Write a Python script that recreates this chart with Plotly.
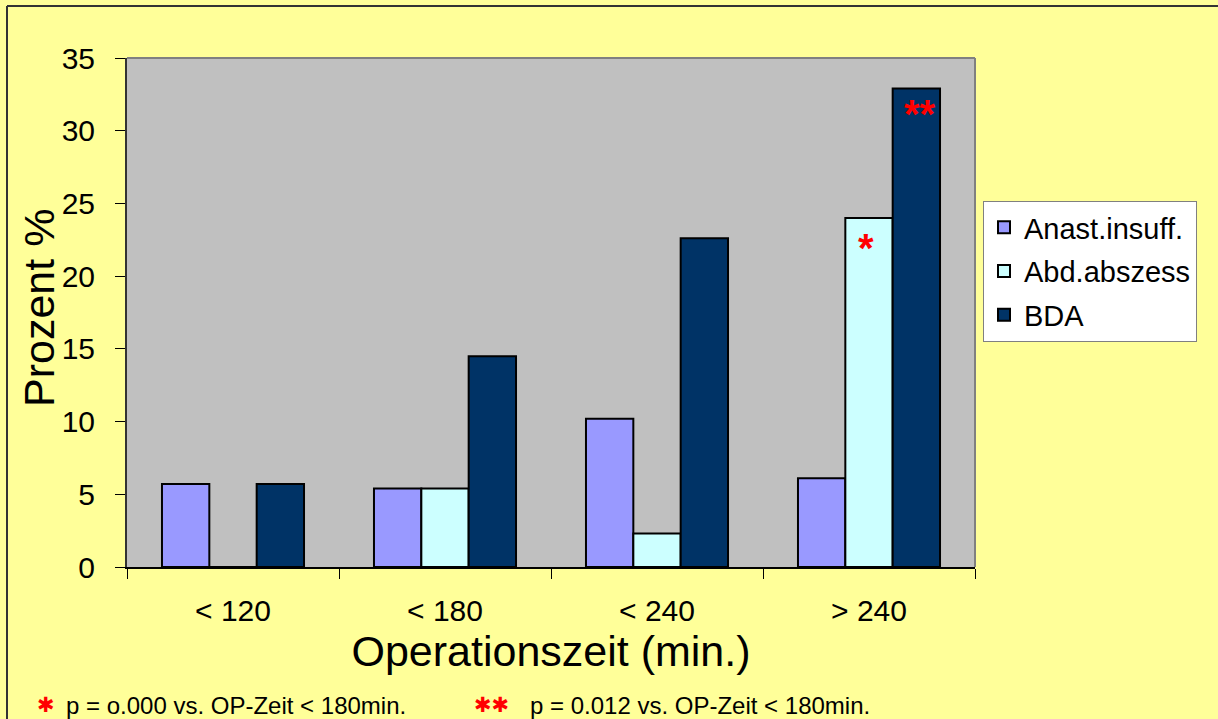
import plotly.graph_objects as go

categories = ["< 120", "< 180", "< 240", "> 240"]
anast_insuff = [5.7, 5.4, 10.2, 6.1]
abd_abszess = [0, 5.4, 2.3, 24.0]
bda = [5.7, 14.5, 22.6, 32.9]
series_names = ["Anast.insuff.", "Abd.abszess", "BDA"]
series_colors = ["#9999FF", "#CCFFFF", "#003366"]

W, H = 1218, 719
L, R, T, B = 127, 243, 58, 152
pw, ph = W - L - R, H - T - B

def px(x):
    return (x - L) / pw

def py(y):
    return (H - B - y) / ph

FONT = "Liberation Sans, Arial, sans-serif"

fig = go.Figure()
for name, vals, col in zip(series_names, [anast_insuff, abd_abszess, bda], series_colors):
    fig.add_trace(go.Bar(
        x=categories, y=vals, name=name, legendgroup=name,
        marker=dict(color=col, line=dict(color="black", width=2)),
    ))

fig.update_layout(
    width=W, height=H,
    margin=dict(l=L, r=R, t=T, b=B, pad=0),
    paper_bgcolor="#FFFF99",
    plot_bgcolor="#C0C0C0",
    barmode="group",
    bargap=0.33,
    bargroupgap=0,
    font=dict(family=FONT, color="black"),
    showlegend=True,
    legend=dict(
        x=px(983), y=py(201), xanchor="left", yanchor="top",
        bgcolor="white", bordercolor="#808080", borderwidth=1,
        font=dict(size=29, family=FONT),
        tracegroupgap=3,
    ),
    xaxis=dict(
        showgrid=False, showline=True, linecolor="black", linewidth=1.5,
        ticks="outside", ticklen=10, tickcolor="black", tickson="boundaries",
        tickfont=dict(size=30), ticklabelstandoff=16,
        title=dict(text="Operationszeit (min.)", font=dict(size=43), standoff=2),
    ),
    yaxis=dict(
        range=[0, 35], dtick=5, showgrid=False, zeroline=False,
        showline=True, linecolor="#333333", linewidth=2,
        ticks="outside", ticklen=10, tickcolor="black",
        tickfont=dict(size=30), ticklabelstandoff=14,
    ),
)

# y-axis title
fig.add_annotation(xref="paper", yref="paper", x=px(39), y=py(308), text="Prozent %",
                   textangle=-90, showarrow=False, xanchor="center", yanchor="middle",
                   font=dict(size=43))

# plot area frame (top / right gray)
fig.add_shape(type="line", xref="paper", yref="paper", x0=0, x1=1, y0=1, y1=1,
              line=dict(color="#808080", width=2))
fig.add_shape(type="line", xref="paper", yref="paper", x0=1, x1=1, y0=0, y1=1,
              line=dict(color="#808080", width=2))
# outer frame (left / top)
fig.add_shape(type="line", xref="paper", yref="paper", x0=px(7), x1=px(7), y0=py(6), y1=py(730),
              line=dict(color="#333333", width=2))
fig.add_shape(type="line", xref="paper", yref="paper", x0=px(7), x1=px(1230), y0=py(6), y1=py(6),
              line=dict(color="#333333", width=2))

STAR = dict(size=40, color="red", family="Liberation Sans, Arial, sans-serif")
# significance stars
fig.add_annotation(x=categories[3], y=abd_abszess[3], text="<b>*</b>", showarrow=False,
                   xshift=-3, yshift=-30, font=STAR)
fig.add_annotation(x=categories[3], y=bda[3], text="<b>**</b>", showarrow=False,
                   xshift=51, yshift=-25, font=STAR)

# footnotes (vertically centred heavy asterisk so the text box stays inside the page)
STAR_SMALL = dict(size=21, color="red", family="DejaVu Sans, sans-serif")
fig.add_annotation(xref="paper", yref="paper", x=px(35), y=py(705), yanchor="middle",
                   text="✱", showarrow=False, font=STAR_SMALL)
fig.add_annotation(xref="paper", yref="paper", x=px(64), y=py(705), xanchor="left", yanchor="middle",
                   text="p = o.000 vs. OP-Zeit < 180min.", showarrow=False,
                   font=dict(size=24))
fig.add_annotation(xref="paper", yref="paper", x=px(491), y=py(705), yanchor="middle",
                   text="✱✱", showarrow=False, font=STAR_SMALL)
fig.add_annotation(xref="paper", yref="paper", x=px(528), y=py(705), xanchor="left", yanchor="middle",
                   text="p = 0.012 vs. OP-Zeit < 180min.", showarrow=False,
                   font=dict(size=24))

fig.write_html(
    "out.html",
    config={"displayModeBar": False},
    post_script="document.body.style.margin='0';document.body.style.background='#FFFF99';document.body.style.overflow='hidden';",
)
